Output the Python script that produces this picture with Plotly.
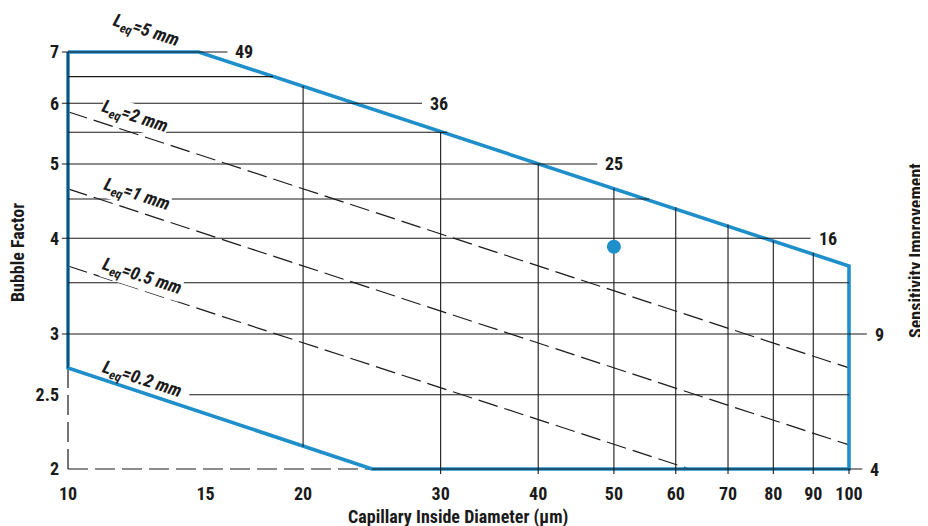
import math
import plotly.graph_objects as go

# ---------------- data ----------------
x_ticks = [10, 15, 20, 30, 40, 50, 60, 70, 80, 90, 100]
y_ticks = [2, 2.5, 3, 4, 5, 6, 7]
y_tick_text = ["2", "2.5", "3", "4", "5", "6", "7"]

# blue operating-region boundary (corners)
boundary_x = [10, 14.7, 100, 100, 24.5, 10, 10]
boundary_y = [7, 7, 3.68, 2, 2, 2.71, 7]

# horizontal grid lines (bubble factor levels) and their extents
h_levels = [7, 6.5, 6, 5.5, 5, 4.5, 4, 3.5, 3, 2.5, 2]
h_start = [9.82, 10, 9.82, 10, 9.82, 10, 9.82, 10, 9.82, 14.3, 24.5]
h_end = [16, 18.3, 28.4, 30.6, 47.6, 55.5, 89.3, 100, 105.4, 100, 104]

# sensitivity improvement labels on the right
sens_levels = [7, 6, 5, 4, 3, 2]
sens_values = [49, 36, 25, 16, 9, 4]

# vertical grid lines (capillary diameter) and their extents
v_x = [20, 30, 40, 50, 60, 70, 80, 90, 100]
v_bottom = [2.14, 1.97, 1.97, 1.97, 1.97, 1.97, 1.97, 1.97, 1.97]
v_top = [6.32, 5.5, 5.0, 4.65, 4.39, 4.17, 3.97, 3.83, 2.0]

# dashed constant-Leq lines
leq_dash_x = [[10, 100], [10, 100], [10, 62.5]]
leq_dash_y = [[5.85, 2.71], [4.64, 2.15], [3.68, 2.0]]

# dashed extension of the axes below / left of the region
axis_dash_x = [[10, 10], [10, 24.5]]
axis_dash_y = [[2.0, 2.71], [2.0, 2.0]]

# Leq labels
leq_labels = ["5", "2", "1", "0.5", "0.2"]
leq_label_x = [12.59, 12.18, 12.25, 12.44, 12.44]
leq_label_y = [7.45, 5.76, 4.56, 3.56, 2.61]
leq_label_masks = [False, True, True, True, False]

# measured point
point_x = [50]
point_y = [3.9]

# ---------------- styling ----------------
BLUE = "#1f8fcc"
BLACK = "#1a1a1a"
FONT = "Roboto Condensed, Open Sans Condensed, sans-serif"

fig = go.Figure()

# dashed lines
for xs, ys in zip(leq_dash_x + axis_dash_x, leq_dash_y + axis_dash_y):
    fig.add_trace(go.Scatter(x=xs, y=ys, mode="lines",
                             line=dict(color=BLACK, width=1.2, dash="20px,7px"),
                             hoverinfo="skip", showlegend=False))

# blue boundary
fig.add_trace(go.Scatter(x=boundary_x, y=boundary_y, mode="lines",
                         line=dict(color=BLUE, width=3.6),
                         hoverinfo="skip", showlegend=False))

# black line on the left boundary
fig.add_trace(go.Scatter(x=[boundary_x[5], boundary_x[6]], y=[boundary_y[5], boundary_y[6]],
                         mode="lines", line=dict(color=BLACK, width=1.1),
                         hoverinfo="skip", showlegend=False))

# horizontal grid
hx, hy = [], []
for lv, s, e in zip(h_levels, h_start, h_end):
    hx += [s, e, None]
    hy += [lv, lv, None]
fig.add_trace(go.Scatter(x=hx, y=hy, mode="lines",
                         line=dict(color=BLACK, width=1.1),
                         hoverinfo="skip", showlegend=False))

# vertical grid
vx, vy = [], []
for x, b, t in zip(v_x, v_bottom, v_top):
    vx += [x, x, None]
    vy += [b, t, None]
fig.add_trace(go.Scatter(x=vx, y=vy, mode="lines",
                         line=dict(color=BLACK, width=1.1),
                         hoverinfo="skip", showlegend=False))

# measured point
fig.add_trace(go.Scatter(x=point_x, y=point_y, mode="markers",
                         marker=dict(color=BLUE, size=14),
                         hoverinfo="skip", showlegend=False))

# sensitivity labels at the line ends (annotation positions on log axes are log10)
end_of = dict(zip(h_levels, h_end))
for lv, sv in zip(sens_levels, sens_values):
    fig.add_annotation(x=math.log10(end_of[lv]), y=math.log10(lv), xref="x", yref="y",
                       text=str(sv), showarrow=False, xanchor="left", yanchor="middle",
                       xshift=6,
                       font=dict(family=FONT, size=18, color=BLACK, weight="bold"))

# Leq labels
for lab, lx, ly, mask in zip(leq_labels, leq_label_x, leq_label_y, leq_label_masks):
    fig.add_annotation(x=math.log10(lx), y=math.log10(ly), xref="x", yref="y",
                       text="<i>L<sub>eq</sub>=" + lab + " mm</i>",
                       showarrow=False, textangle=18,
                       bgcolor="white" if mask else "rgba(0,0,0,0)", borderpad=0,
                       xanchor="center", yanchor="middle",
                       font=dict(family=FONT, size=18, color=BLACK, weight="bold"))

# axis titles
fig.add_annotation(x=-0.0512, y=0.4765, xref="paper", yref="paper", text="Bubble Factor",
                   textangle=-90, showarrow=False, xanchor="center", yanchor="middle",
                   font=dict(family=FONT, size=18, color=BLACK, weight="bold"))
fig.add_annotation(x=1.0439, y=0.483, xref="paper", yref="paper", text="Sensitivity Improvement",
                   textangle=-90, showarrow=False, xanchor="center", yanchor="middle",
                   font=dict(family=FONT, size=18, color=BLACK, weight="bold"))
fig.add_annotation(x=0.4848, y=-0.0876, xref="paper", yref="paper",
                   text="Capillary Inside Diameter (μm)",
                   showarrow=False, xanchor="center", yanchor="middle",
                   font=dict(family=FONT, size=18, color=BLACK, weight="bold"))

fig.update_xaxes(type="log", range=[0.989757, 2.039693],
                 tickvals=x_ticks, ticktext=[str(v) for v in x_ticks],
                 showgrid=False, zeroline=False, showline=False,
                 ticks="outside", ticklen=1, tickcolor="rgba(0,0,0,0)",
                 tickfont=dict(family=FONT, size=18, color=BLACK, weight="bold"))
fig.update_yaxes(type="log", range=[0.29190, 0.90247],
                 tickvals=y_ticks, ticktext=y_tick_text,
                 showgrid=False, zeroline=False, showline=False,
                 ticks="",
                 tickfont=dict(family=FONT, size=18, color=BLACK, weight="bold"))

# the page adds an 8 px body margin, so the figure is 8 px smaller and shifted
fig.update_layout(width=920, height=518,
                  margin=dict(l=52, r=48, t=0, b=50),
                  paper_bgcolor="white", plot_bgcolor="white",
                  showlegend=False)

fig.write_html("out.html")
